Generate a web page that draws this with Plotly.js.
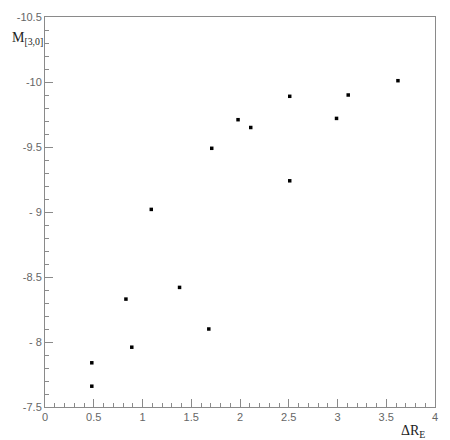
<html lang="en">
  <head>
    <meta charset="UTF-8" />
    <script src="https://cdn.plot.ly/plotly-3.0.1.min.js"></script>
    <title>M vs delta R</title>
    <style>
      body { margin: 0; background: #fff; }
    </style>
  </head>
  <body>
    <div id="scatterPlot" style="width: 450px; height: 440px;"></div>
    <script>
      // values
      const deltaR = [0.48, 0.48, 0.83, 0.89, 1.09, 1.38, 1.68, 1.71, 1.98, 2.11, 2.51, 2.51, 2.99, 3.11, 3.62];
      const mag = [-7.66, -7.84, -8.33, -7.96, -9.02, -8.42, -8.10, -9.49, -9.71, -9.65, -9.89, -9.24, -9.72, -9.90, -10.01];

      const xTicks = [0, 0.5, 1, 1.5, 2, 2.5, 3, 3.5, 4];
      const xTickText = ['0', '0.5', '1', '1.5', '2', '2.5', '3', '3.5', '4'];
      const yTicks = [-10.5, -10, -9.5, -9, -8.5, -8, -7.5];
      const yTickText = ['-10.5', '-10', '-9.5', '- 9', '-8.5', '- 8', '-7.5'];

      const axisColor = '#8a8a8a';
      const tickFont = { family: 'Liberation Sans, Arial, sans-serif', size: 11, color: '#666' };

      const trace = {
        x: deltaR,
        y: mag,
        type: 'scatter',
        mode: 'markers',
        marker: { symbol: 'square', size: 3.5, color: '#000' },
        hoverinfo: 'x+y'
      };

      const layout = {
        width: 450,
        height: 440,
        margin: { l: 45, r: 15, t: 17, b: 33 },
        paper_bgcolor: '#fff',
        plot_bgcolor: '#fff',
        showlegend: false,
        xaxis: {
          range: [0, 4],
          tickvals: xTicks,
          ticktext: xTickText,
          ticks: 'inside',
          ticklen: 8,
          tickcolor: axisColor,
          minor: { dtick: 0.1, ticks: 'inside', ticklen: 4, tickcolor: axisColor },
          showgrid: false,
          zeroline: false,
          showline: true,
          mirror: true,
          linecolor: axisColor,
          linewidth: 1,
          tickfont: tickFont
        },
        yaxis: {
          range: [-7.5, -10.5],
          tickvals: yTicks,
          ticktext: yTickText,
          ticks: 'inside',
          ticklen: 8,
          tickcolor: axisColor,
          minor: { dtick: 0.1, ticks: 'inside', ticklen: 4, tickcolor: axisColor },
          showgrid: false,
          zeroline: false,
          showline: true,
          mirror: true,
          linecolor: axisColor,
          linewidth: 1,
          tickfont: tickFont
        },
        annotations: [
          {
            text: 'M<sub>[3,0]</sub>',
            xref: 'paper', yref: 'paper',
            x: -0.09, y: 0.945,
            xanchor: 'left', yanchor: 'middle',
            showarrow: false,
            font: { family: 'Liberation Serif, Times New Roman, serif', size: 14, color: '#222' }
          },
          {
            text: '\u0394R<sub>E</sub>',
            xref: 'paper', yref: 'paper',
            x: 0.98, y: -0.035,
            xanchor: 'right', yanchor: 'top',
            showarrow: false,
            font: { family: 'Liberation Serif, Times New Roman, serif', size: 14, color: '#222' }
          }
        ]
      };

      Plotly.newPlot('scatterPlot', [trace], layout, { displayModeBar: false, staticPlot: true });
    </script>
  </body>
</html>
